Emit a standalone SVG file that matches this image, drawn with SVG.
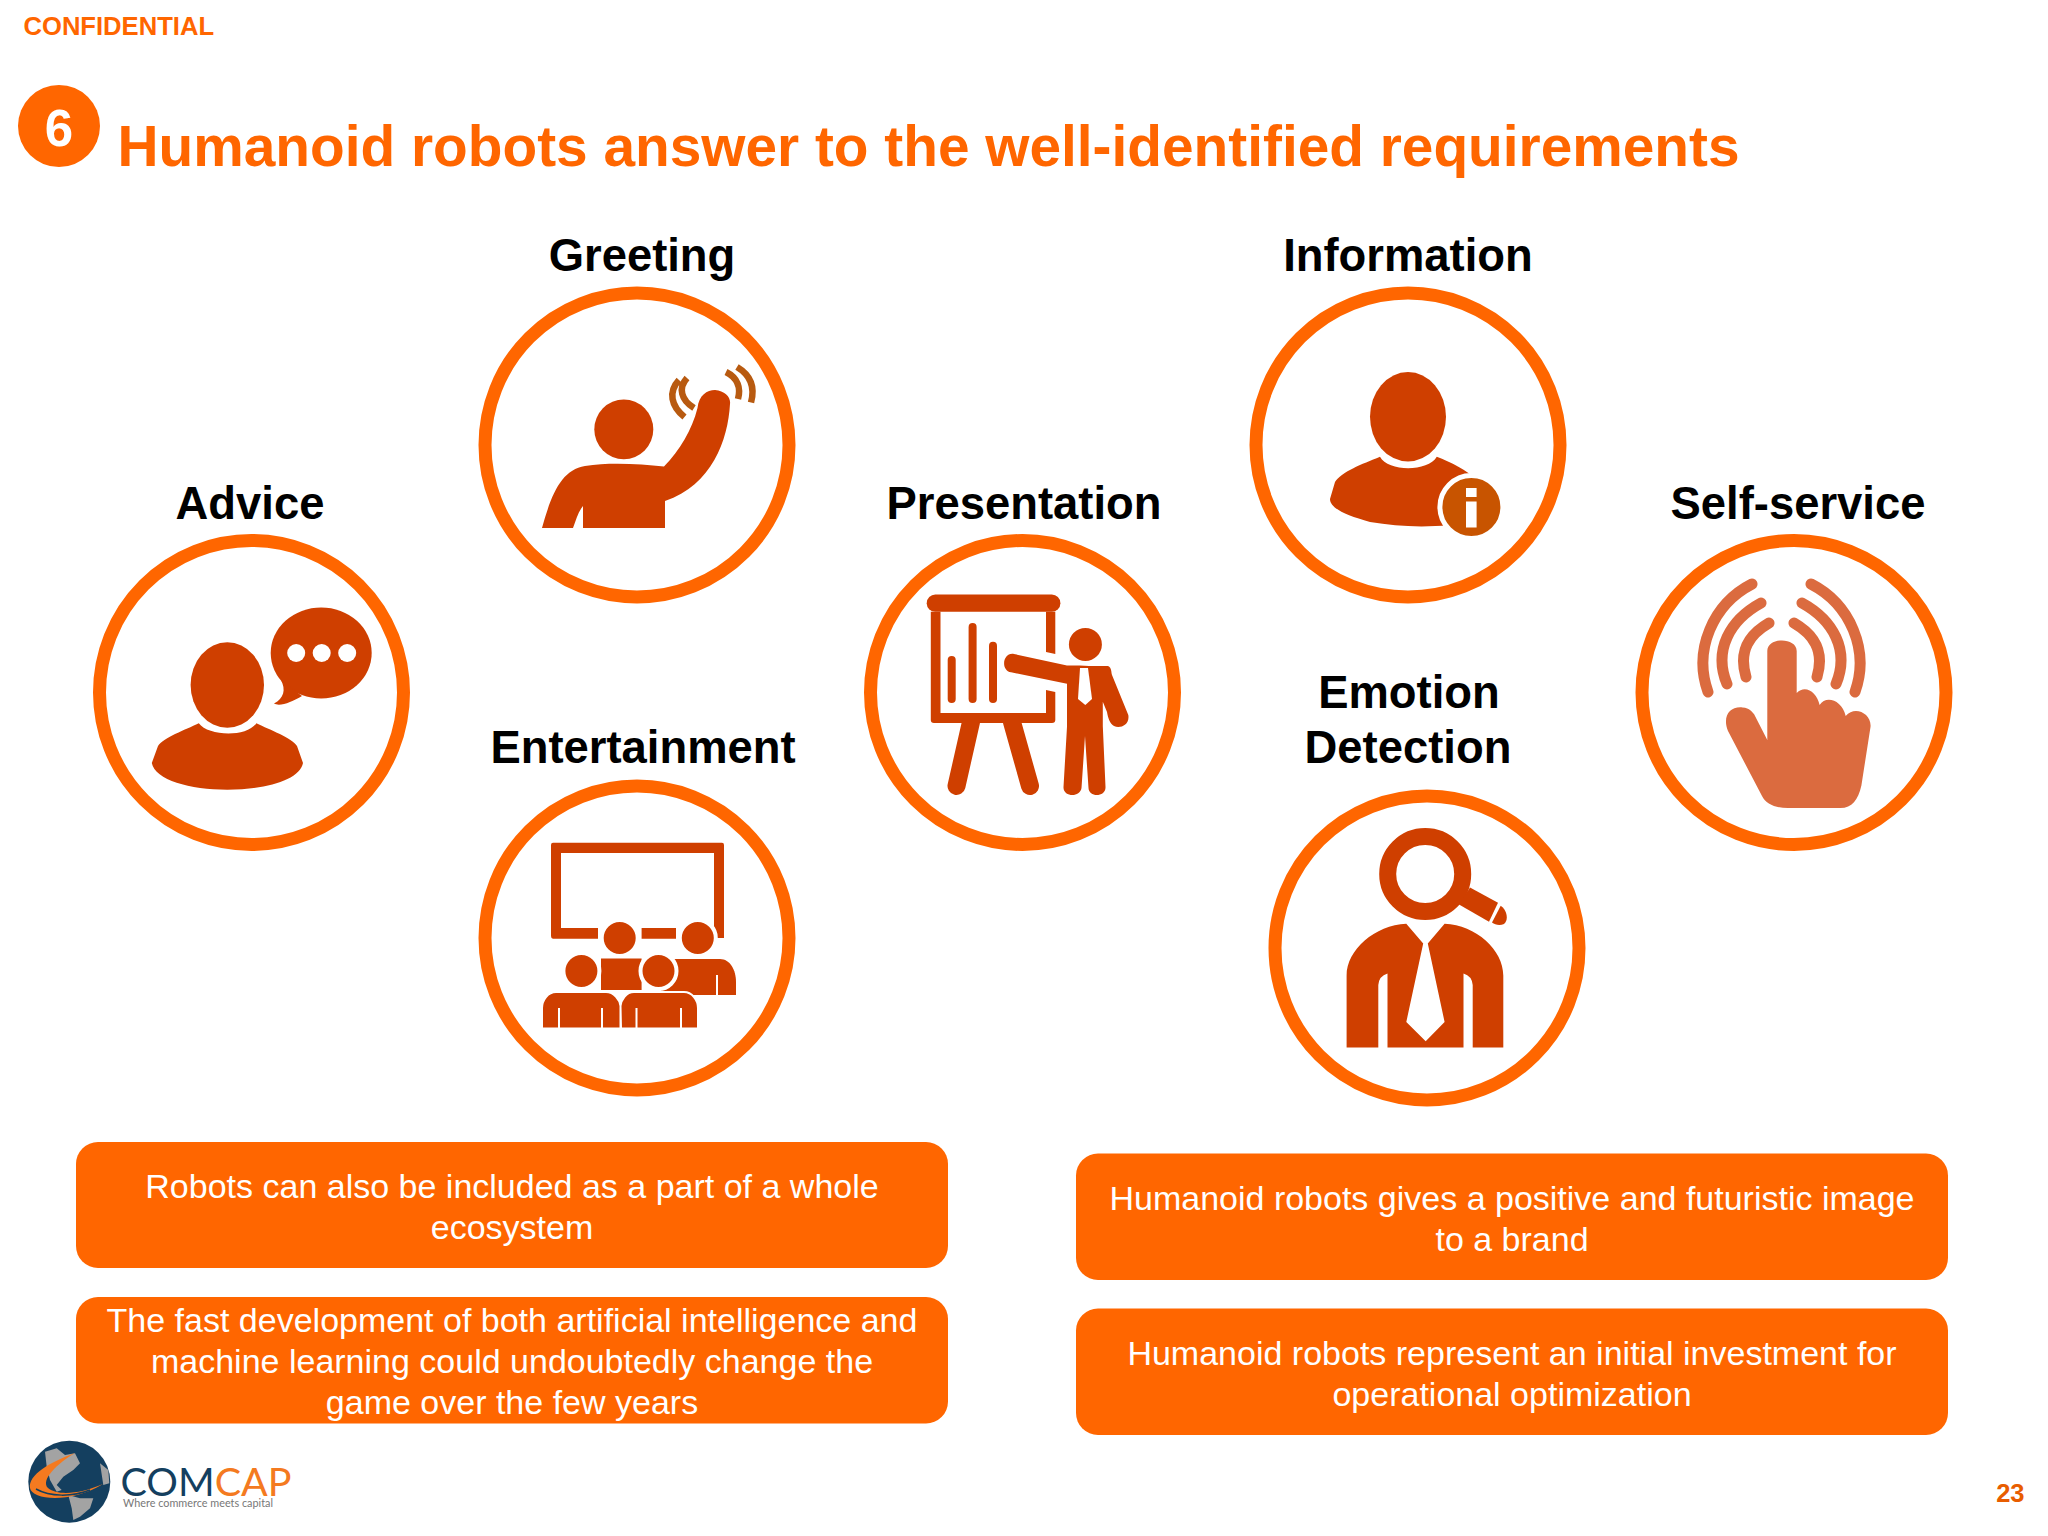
<svg xmlns="http://www.w3.org/2000/svg" width="2048" height="1536" viewBox="0 0 2048 1536">
<style>
text{font-family:"Liberation Sans",Arial,sans-serif}
.ring{fill:#fff;stroke:#FF6600;stroke-width:13}
.ic{fill:#CF3F00}
.lb{font-size:45.4px;font-weight:700;fill:#000;text-anchor:middle}
.box{fill:#FF6600}
.bt{font-size:34px;fill:#fff;text-anchor:middle}
.wv{fill:none;stroke:#B85A10;stroke-width:6.5}
.arc{fill:none;stroke:#DB6B3F;stroke-width:11;stroke-linecap:round}
.hw{stroke:#fff;stroke-width:4}
</style>
<rect width="2048" height="1536" fill="#fff"/>
<g id="header">
<text x="23.5" y="35" font-size="25.6" font-weight="700" fill="#FF6600">CONFIDENTIAL</text>
<circle cx="59" cy="126" r="41" fill="#FF6600"/>
<text x="59" y="146" font-size="51" font-weight="700" fill="#fff" text-anchor="middle">6</text>
<text x="117.500" y="165.500" font-size="56.8" font-weight="700" fill="#FF6600">Humanoid robots answer to the well-identified requirements</text>
</g>
<g id="greeting">
<text class="lb" x="642" y="270.500">Greeting</text>
<circle class="ring" cx="637" cy="445" r="152"/>
<ellipse class="ic" cx="623.800" cy="429.400" rx="29.500" ry="29.800"/>
<path class="ic" d="M542,528C552,492 562,470 585,466C610,462 640,464 664,466.500C680,450 692,430 697.500,408C699,395 707,390 715,390C725,391 731,397 730,404C728,440 712,485 665,501L665,528L583,528L583,506C578,512 576,520 573,528Z"/>
<path class="wv" d="M679,380C668,392 671,406 684.500,417M687,378C678,388 681,400 694,408M737,367C752,376 755,388 751,402.500M726,372C738,378 741,388 738,399"/>
</g>
<g id="advice">
<text class="lb" x="250" y="518.500">Advice</text>
<circle class="ring" cx="251.500" cy="692.500" r="152"/>
<ellipse class="ic" cx="227.300" cy="685" rx="36.700" ry="42.700"/>
<path class="ic" d="M198.800,723.300C208,736 246,738 256.400,723.300C270,730 292,738 297,746L303,763C300,780 265,789.700 227.300,789.700C190,789.700 155,780 151.800,763L158,746C163,738 185,730 198.800,723.300Z"/>
<ellipse class="ic" cx="321.200" cy="653" rx="50.500" ry="45.500"/>
<path class="ic" d="M281,680C286,690 284,698 274,703.600C280,707 292,702 302,696Z"/>
<g fill="#fff"><circle cx="296.200" cy="653" r="9"/><circle cx="321.700" cy="653" r="9"/><circle cx="347.200" cy="653" r="9"/></g>
</g>
<g id="entertainment">
<text class="lb" x="643" y="763">Entertainment</text>
<circle class="ring" cx="637" cy="938" r="152"/>
<path class="ic" d="M553,842.700H722Q724,842.700 724,845V938H714V853H561V928H598V938.700H553Q551,938.700 551,936V845Q551,842.700 553,842.700ZM641.600,928H676V938.700H641.600Z"/>
<path class="ic" d="M668,959H720C730,959 736,970 736,982V995H660Z"/>
<path class="ic" d="M601,958.500H641.600V990H601Z"/>
<g class="ic"><ellipse class="hw" cx="619.700" cy="938" rx="18" ry="18"/><ellipse class="hw" cx="697.800" cy="938" rx="18" ry="18"/></g>
<g class="ic"><ellipse class="hw" cx="581.400" cy="971" rx="18" ry="18"/><ellipse class="hw" cx="658.500" cy="971" rx="18" ry="18"/></g>
<path class="ic" stroke="#fff" stroke-width="2" d="M556,992H606C614,992 620,1000 620.500,1006L621,1028.500H542V1008C542,1000 548,992 556,992ZM634,992H684C692,992 698,1000 698,1008V1028.500H620.500V1006C621,1000 626,992 634,992Z"/>
<path fill="#fff" d="M558,1008h2v20h-2zM601,1008h2v20h-2zM635.500,1008h2v20h-2zM680,1008h2v20h-2zM716,975h2v20h-2z"/>
</g>
<g id="presentation">
<text class="lb" x="1024" y="518.500">Presentation</text>
<circle class="ring" cx="1022.500" cy="692.500" r="152"/>
<rect class="ic" x="926.700" y="594.600" width="133.700" height="17.200" rx="8.600"/>
<path class="ic" d="M930.800,611.800H1055.300V654L1046,652V611.800H940.500V713H1046V690L1055.300,692V720Q1055.300,723 1052,723H934Q930.800,723 930.800,720Z"/>
<g class="ic"><rect x="947.700" y="656" width="8" height="47" rx="4"/><rect x="968.600" y="623" width="8" height="80" rx="4"/><rect x="989" y="641.700" width="8" height="61.300" rx="4"/></g>
<path fill="none" stroke="#CF3F00" stroke-width="18" stroke-linecap="round" d="M971,722L956.500,786M1012,722L1030,786"/>
<ellipse class="ic" cx="1085.400" cy="644.400" rx="16.500" ry="16.500"/>
<path class="ic" d="M1014,654L1067,665.400H1080L1089,666H1108C1112,668 1111,672 1112,675L1128.300,715C1130,725 1120,729 1114,726C1110,724 1108,718 1107,712L1102.800,701.800V726L1105.500,787C1106,797 1089,798 1088.500,788L1085,736L1081.500,788C1080,798 1063,797 1063.500,787L1067,726.700V683.800L1011,672.300C1000,670 1003,652 1014,654Z"/>
<path fill="#fff" d="M1080,668L1078,699L1085.300,705L1092,699L1088,668Z"/>
</g>
<g id="information">
<text class="lb" x="1408" y="270.500">Information</text>
<circle class="ring" cx="1408" cy="445" r="152"/>
<ellipse class="ic" cx="1408" cy="416.800" rx="38" ry="44.700"/>
<path class="ic" d="M1380,456.700C1388,472 1428,472 1436.800,456.700C1450,462 1468,470 1476,480L1450,525C1420,528 1395,526 1370,522C1345,515 1330,508 1330,499L1335,482C1341,472 1362,464 1380,456.700Z"/>
<circle cx="1471.400" cy="507" r="31.500" fill="#C85400" stroke="#fff" stroke-width="5"/>
<path fill="#fff" d="M1466,488h10.600v9h-10.600zM1466,501.400h10.600v26h-10.600z"/>
</g>
<g id="self-service">
<text class="lb" x="1798" y="518.500">Self-service</text>
<circle class="ring" cx="1794" cy="692.500" r="152"/>
<path class="arc" d="M1752,584C1713,604 1693,650 1708,692M1761,603C1730,620 1713,650 1727,684M1769,623C1750,634 1738,650 1746,677M1811,584C1850,604 1870,650 1855,692M1802,603C1833,620 1850,650 1836,684M1794,623C1813,634 1825,650 1817,677"/>
<path fill="#DB6B3F" d="M1767.300,651C1767.300,637 1796.700,637 1796.700,651L1796.700,693C1805,684 1817,692 1819.600,705C1826,695 1842,700 1845.700,716C1855,705 1872,714 1870.500,727L1861.400,785.400C1858,800 1852,808 1840.500,808H1788C1775,808 1766,804 1762,796L1728,731C1722,716 1730,706 1742.500,707.400C1750,708 1752,712 1754,714L1767.300,740Z"/>
</g>
<g id="emotion-detection">
<text class="lb" x="1409" y="707.500">Emotion</text>
<text class="lb" x="1408" y="762.500">Detection</text>
<circle class="ring" cx="1427" cy="948" r="152"/>
<circle cx="1425.200" cy="874" r="37.500" fill="none" stroke="#CF3F00" stroke-width="17"/>
<path class="ic" d="M1470,887.400L1498,902.700L1489,921.800L1459,904.600Z"/>
<path class="ic" d="M1500.700,905.800C1507,910 1509,920 1504,924C1500,926 1495,925 1492,922.600Z"/>
<path class="ic" d="M1346.600,1047.400V975.400C1346.600,950 1375,925 1406.300,923.700L1423.200,943.600L1406.300,1022L1425.700,1041.200L1444.600,1022L1427.800,943.600L1444.600,923.700C1476,925 1503.300,950 1503.300,975.400V1047.400H1472.700V985Q1472,976 1463.500,973.500V1047.400H1387.500V973.500Q1379,976 1378.300,985V1047.400Z"/>
</g>
<g id="box-ecosystem">
<rect class="box" x="76" y="1142" width="872" height="126" rx="22"/>
<text class="bt" x="512" y="1197.500">Robots can also be included as a part of a whole</text>
<text class="bt" x="512" y="1238.500">ecosystem</text>
</g>
<g id="box-ai">
<rect class="box" x="76" y="1297" width="872" height="126.500" rx="22"/>
<text class="bt" x="512" y="1331.500">The fast development of both artificial intelligence and</text>
<text class="bt" x="512" y="1372.500">machine learning could undoubtedly change the</text>
<text class="bt" x="512" y="1413.700">game over the few years</text>
</g>
<g id="box-image">
<rect class="box" x="1076" y="1153.500" width="872" height="126.500" rx="22"/>
<text class="bt" x="1512" y="1209.700">Humanoid robots gives a positive and futuristic image</text>
<text class="bt" x="1512" y="1250.700">to a brand</text>
</g>
<g id="box-investment">
<rect class="box" x="1076" y="1308.500" width="872" height="126.500" rx="22"/>
<text class="bt" x="1512" y="1364.700">Humanoid robots represent an initial investment for</text>
<text class="bt" x="1512" y="1405.700">operational optimization</text>
</g>
<g id="logo">
<circle cx="69.300" cy="1481.700" r="41" fill="#143F5F"/>
<path fill="#A3A3A3" d="M45,1451.700L56.700,1448.300L65,1455L75,1453.300L80,1463.300L73.300,1470L63.300,1476.700L56.700,1485L61.700,1490L56.700,1491.700L50,1480L46.700,1466.700ZM68.300,1495L80,1498.300L93.300,1498.300L90,1508.300L80,1516.700L73.300,1520L71.700,1508.300ZM100,1463.300L108.300,1470L109.300,1483.300L103.300,1485Z"/>
<path fill="#F47A20" d="M75,1453C50,1462 28,1475 30,1488C32,1500 70,1504 103,1484C80,1494 58,1496 48,1488C40,1480 58,1463 75,1453Z"/>
<path fill="none" stroke="#143F5F" stroke-width="1.500" d="M36,1489C50,1497 72,1497 90,1490"/>
<text x="120.500" y="1496" font-size="39" style="font-family:Lato,sans-serif" textLength="171" lengthAdjust="spacingAndGlyphs"><tspan fill="#143F5F">COM</tspan><tspan fill="#F47A20">CAP</tspan></text>
<text x="123" y="1507" font-size="11" fill="#777" style="font-family:Lato,sans-serif" textLength="150" lengthAdjust="spacingAndGlyphs">Where commerce meets capital</text>
</g>
<text id="page-number" x="2024.500" y="1501.700" font-size="25.5" font-weight="700" fill="#E85D00" text-anchor="end">23</text>
</svg>
